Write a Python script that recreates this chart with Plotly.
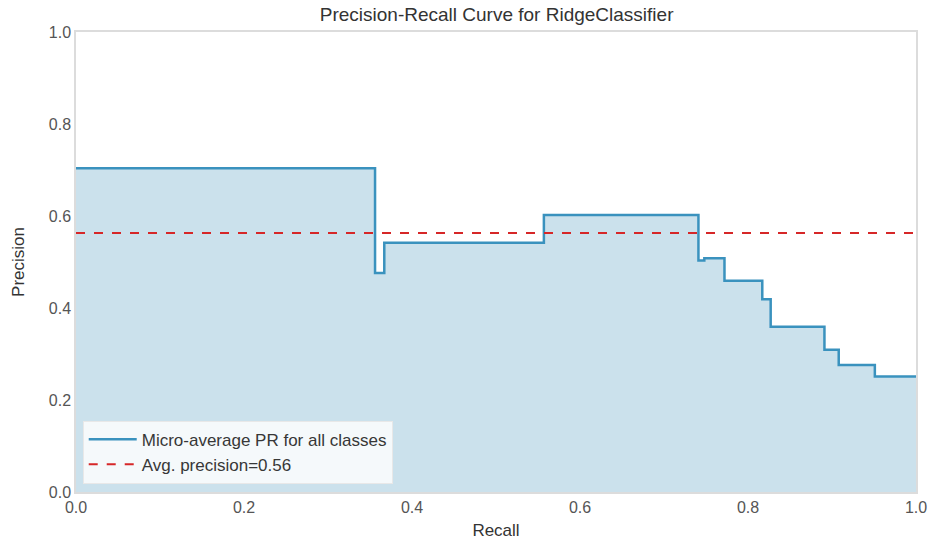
import plotly.graph_objects as go

recall = [0.0, 0.356, 0.367, 0.557, 0.741, 0.748, 0.772, 0.817, 0.827, 0.891, 0.908, 0.951, 1.0]
precision = [0.704, 0.476, 0.542, 0.602, 0.503, 0.508, 0.459, 0.419, 0.359, 0.309, 0.276, 0.251, 0.251]
avg_precision = 0.563
title = "Precision-Recall Curve for RidgeClassifier"
tick_vals = [0.0, 0.2, 0.4, 0.6, 0.8, 1.0]
tick_text = ["0.0", "0.2", "0.4", "0.6", "0.8", "1.0"]

FONT = "Liberation Sans, Arial, sans-serif"

fig = go.Figure()
# filled area under the curve (no legend entry)
fig.add_trace(go.Scatter(
    x=recall, y=precision, mode="lines", line_shape="hv",
    line=dict(color="rgba(0,0,0,0)", width=0),
    fill="tozeroy", fillcolor="rgba(160,200,220,0.55)",
    showlegend=False, hoverinfo="skip",
))
fig.add_trace(go.Scatter(
    x=recall, y=precision, mode="lines", line_shape="hv",
    line=dict(color="rgb(58,146,190)", width=2.5),
    name="Micro-average PR for all classes",
))
fig.add_trace(go.Scatter(
    x=[0, 1], y=[avg_precision, avg_precision], mode="lines",
    line=dict(color="rgb(214,39,40)", width=2, dash="dash"),
    name=f"Avg. precision={avg_precision:.2f}",
))

axis_common = dict(
    range=[0, 1], tickvals=tick_vals, ticktext=tick_text,
    showgrid=False, zeroline=False, showline=True, mirror=True,
    linecolor="rgb(220,220,220)", linewidth=1.5, ticks="",
    automargin=False,
    tickfont=dict(family=FONT, size=16, color="rgb(85,85,85)"),
)

fig.update_layout(
    width=930, height=544,
    margin=dict(l=76, r=14, t=32, b=52),
    paper_bgcolor="white", plot_bgcolor="white",
    title=dict(text=title, x=0.534, xanchor="center", y=0.985, yanchor="top",
               font=dict(family=FONT, size=19, color="rgb(51,51,51)")),
    xaxis=dict(**axis_common, title=dict(text="Recall", standoff=9,
               font=dict(family=FONT, size=17, color="rgb(51,51,51)"))),
    yaxis=dict(**axis_common, title=dict(text="Precision", standoff=20,
               font=dict(family=FONT, size=17, color="rgb(51,51,51)"))),
    legend=dict(x=0.008, y=0.018, xanchor="left", yanchor="bottom",
                bgcolor="rgba(255,255,255,0.8)", bordercolor="rgb(232,232,232)",
                borderwidth=1, itemwidth=48,
                font=dict(family=FONT, size=17, color="rgb(55,55,55)"),
                tracegroupgap=0),
    showlegend=True,
)

fig.write_html("out.html")
